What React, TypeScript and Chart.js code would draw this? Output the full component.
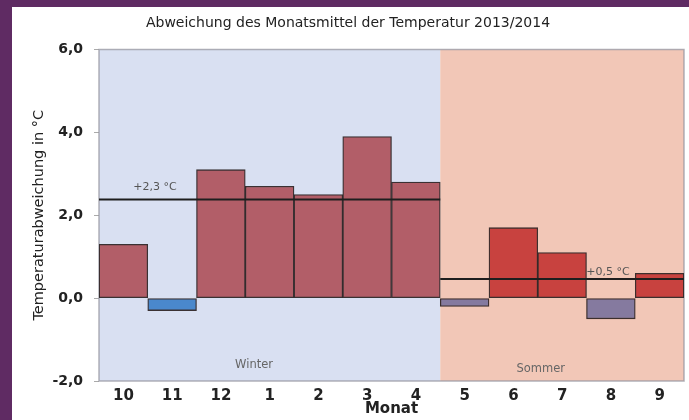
import { useEffect, useRef } from "react";
import { Chart, registerables } from "chart.js";

Chart.register(...registerables);

const chartTitle = "Abweichung des Monatsmittel der Temperatur 2013/2014";
const yAxisTitle = "Temperaturabweichung in °C";
const xAxisTitle = "Monat";
const months = ["10", "11", "12", "1", "2", "3", "4", "5", "6", "7", "8", "9"];
const deviations = [1.3, -0.3, 3.1, 2.7, 2.5, 3.9, 2.8, -0.2, 1.7, 1.1, -0.5, 0.6];
const yMin = -2;
const yMax = 6;
const yStep = 2;
const seasonNames = ["Winter", "Sommer"];
const seasonFirst = [0, 7];
const seasonLast = [6, 11];
const seasonMeans = [2.38, 0.46];
const seasonMeanLabels = ["+2,3 °C", "+0,5 °C"];

const FONT = "DejaVu Sans";
const seasonBg = ["#d9e0f2", "#f2c7b7"];
const posColor = ["#b25e68", "#c8423f"];
const negColor = ["#4a88cc", "#857a9f"];
// label placement (styling): x in category units, y offset in px / value
const meanLabelPos = [
  { x: 0.65, dy: -12 },
  { x: 9.94, dy: -7 },
];
const seasonLabelPos = [
  { x: 2.68, y: -1.61 },
  { x: 8.56, y: -1.71 },
];

function seasonOf(i: number) {
  return i >= seasonFirst[1] ? 1 : 0;
}

const seasonPlugin = {
  id: "seasons",
  beforeDatasetsDraw(chart: any) {
    const { ctx, chartArea, scales } = chart;
    const x = scales.x;
    const half = (x.getPixelForValue(1) - x.getPixelForValue(0)) / 2;
    ctx.save();
    seasonFirst.forEach((f, i) => {
      const l = x.getPixelForValue(f) - half;
      const r = x.getPixelForValue(seasonLast[i]) + half;
      ctx.fillStyle = seasonBg[i];
      ctx.fillRect(l, chartArea.top, r - l, chartArea.bottom - chartArea.top);
    });
    ctx.strokeStyle = "rgba(150,150,160,0.75)";
    ctx.lineWidth = 1.5;
    ctx.strokeRect(chartArea.left, chartArea.top, chartArea.right - chartArea.left, chartArea.bottom - chartArea.top);
    // season names
    ctx.fillStyle = "#666";
    ctx.font = `11.5px "${FONT}"`;
    ctx.textAlign = "center";
    ctx.textBaseline = "middle";
    seasonNames.forEach((n, i) => {
      ctx.fillText(n, x.getPixelForValue(seasonLabelPos[i].x), scales.y.getPixelForValue(seasonLabelPos[i].y));
    });
    ctx.restore();
  },
  afterDatasetsDraw(chart: any) {
    const { ctx, scales } = chart;
    const x = scales.x;
    const y = scales.y;
    const half = (x.getPixelForValue(1) - x.getPixelForValue(0)) / 2;
    ctx.save();
    seasonFirst.forEach((f, i) => {
      const l = x.getPixelForValue(f) - half;
      const r = x.getPixelForValue(seasonLast[i]) + half;
      const py = y.getPixelForValue(seasonMeans[i]);
      ctx.strokeStyle = "#1e1e1e";
      ctx.lineWidth = 2;
      ctx.beginPath();
      ctx.moveTo(l, py);
      ctx.lineTo(r, py);
      ctx.stroke();
      ctx.fillStyle = "#555";
      ctx.font = `11px "${FONT}"`;
      ctx.textAlign = "center";
      ctx.textBaseline = "middle";
      ctx.fillText(seasonMeanLabels[i], x.getPixelForValue(meanLabelPos[i].x), py + meanLabelPos[i].dy);
    });
    ctx.restore();
  },
};

export default function App() {
  const ref = useRef<HTMLCanvasElement | null>(null);
  useEffect(() => {
    if (!ref.current) return;
    Chart.defaults.font.family = FONT;
    const chart = new Chart(ref.current, {
      type: "bar",
      data: {
        labels: months,
        datasets: [
          {
            data: deviations,
            backgroundColor: deviations.map((v, i) => (v >= 0 ? posColor[seasonOf(i)] : negColor[seasonOf(i)])),
            borderColor: "rgba(40,30,30,0.9)",
            borderWidth: 1.3,
            borderSkipped: false,
            barPercentage: 1,
            categoryPercentage: 1,
          },
        ],
      },
      options: {
        animation: false,
        responsive: false,
        layout: { padding: { left: 0, right: 5, top: 0, bottom: 0 } },
        plugins: {
          legend: { display: false },
          tooltip: { enabled: false },
          title: {
            display: true,
            text: chartTitle,
            color: "#222",
            font: { family: FONT, size: 14, weight: "normal" },
            padding: { top: 7.6, bottom: 18.1 },
          },
        },
        scales: {
          x: {
            type: "category",
            grid: { display: false },
            border: { display: false },
            ticks: {
              color: "#222",
              font: { family: FONT, size: 15, weight: "bold" },
              padding: -2,
              maxRotation: 0,
              autoSkip: false,
            },
            title: {
              display: true,
              text: xAxisTitle,
              color: "#222",
              font: { family: FONT, size: 15, weight: "bold" },
              padding: { top: 0, bottom: 1.5 },
            },
            afterFit: (s: any) => {
              s.height = 39;
            },
          },
          y: {
            min: yMin,
            max: yMax,
            border: { display: false },
            grid: { drawOnChartArea: false, tickLength: 5, color: "#aaa" },
            ticks: {
              stepSize: yStep,
              color: "#222",
              padding: 11,
              font: { family: FONT, size: 14, weight: "bold" },
              callback: (v: any) => Number(v).toFixed(1).replace(".", ","),
            },
            title: {
              display: true,
              text: yAxisTitle,
              color: "#222",
              font: { family: FONT, size: 14.5, weight: "normal" },
              padding: { top: 19, bottom: 0 },
            },
            afterFit: (s: any) => {
              s.width = 87;
            },
          },
        },
      },
      plugins: [seasonPlugin],
    } as any);
    return () => chart.destroy();
  }, []);

  return (
    <div style={{ position: "fixed", left: 0, top: 0, width: 689, height: 420, background: "#5f2b63" }}>
      <div style={{ position: "absolute", left: 12, top: 7, width: 677, height: 413, background: "#fff" }}>
        <canvas ref={ref} width={677} height={413} style={{ display: "block" }} />
      </div>
    </div>
  );
}
